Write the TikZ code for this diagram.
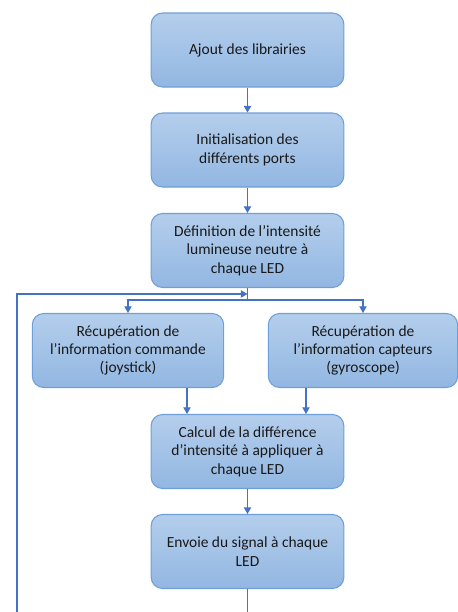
\documentclass[tikz,border=0pt]{standalone}
\usepackage{fontspec}
\setmainfont{Carlito}
\usetikzlibrary{arrows.meta}
\definecolor{boxtop}{HTML}{B4CEEC}
\definecolor{boxbot}{HTML}{92B7E2}
\definecolor{boxline}{HTML}{6E9FDA}
\definecolor{arrowc}{HTML}{4472C4}
\begin{document}
\begin{tikzpicture}[x=0.75pt,y=-0.75pt,
 stepbox/.style={draw=boxline, line width=0.8pt, rounded corners=8.5pt, top color=boxtop, bottom color=boxbot,
   minimum width=144.5pt, minimum height=55.5pt, align=center, inner sep=0pt,
   font=\fontsize{11.6}{13.8}\selectfont, text=black!90},
 conn/.style={draw=arrowc, line width=0.8pt},
 arr/.style={conn, -{Triangle[length=5pt,width=5.5pt]}}]
\useasboundingbox (0,0) rectangle (458,612);
\node[stepbox] (b1) at (247.5,50) {Ajout des librairies};
\node[stepbox] (b2) at (247.5,150) {Initialisation des\\différents ports};
\node[stepbox] (b3) at (247.5,250.5) {Définition de l’intensité\\lumineuse neutre à\\chaque LED};
\node[stepbox, minimum width=143.5pt] (bl) at (128,350.5) {Récupération de\\l’information commande\\(joystick)};
\node[stepbox, minimum width=142pt] (br) at (363,350.5) {Récupération de\\l’information capteurs\\(gyroscope)};
\node[stepbox] (bc) at (247.5,451.5) {Calcul de la différence\\d’intensité à appliquer à\\chaque LED};
\node[stepbox] (b5) at (247.5,551.5) {Envoie du signal à chaque\\LED};
\coordinate (split) at (247.5,300);
\coordinate (join) at (247.5,294);
\coordinate (cl) at (187,388);
\coordinate (cr) at (306,388);
\coordinate (out) at (247.5,612);
\coordinate (loopbot) at (17,612);
\coordinate (looptop) at (17,294);
\draw[arr] (b1) -- (b2);
\draw[arr] (b2) -- (b3);
\draw[conn] (b3.south) -- (split);
\draw[arr] (split) -| (bl.north);
\draw[arr] (split) -| (br.north);
\draw[arr] (cl |- bl.south) -- (cl |- bc.north);
\draw[arr] (cr |- br.south) -- (cr |- bc.north);
\draw[arr] (bc) -- (b5);
\draw[conn] (b5.south) -- (out);
\draw[arr] (loopbot) -- (looptop) -- (join);
\end{tikzpicture}
\end{document}
